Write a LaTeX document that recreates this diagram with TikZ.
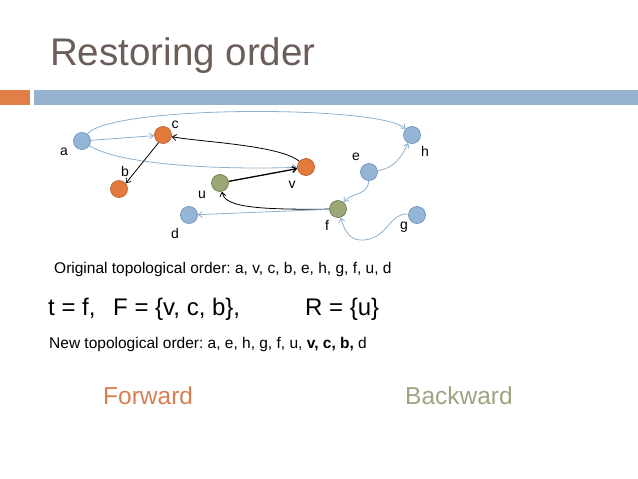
\documentclass[tikz,border=0pt]{standalone}
\usepackage{fontspec}
\setmainfont{Liberation Sans}
\frenchspacing
\usetikzlibrary{arrows.meta}
\definecolor{titlegray}{RGB}{107,93,88}
\definecolor{barorange}{RGB}{224,128,72}
\definecolor{barblue}{RGB}{149,179,208}
\definecolor{nblue}{RGB}{149,181,215}
\definecolor{nblueb}{RGB}{112,146,190}
\definecolor{norange}{RGB}{226,122,60}
\definecolor{norangeb}{RGB}{190,95,45}
\definecolor{ngreen}{RGB}{155,167,118}
\definecolor{ngreenb}{RGB}{110,125,80}
\definecolor{eblue}{RGB}{141,176,204}
\definecolor{fwd}{RGB}{214,128,82}
\definecolor{bwd}{RGB}{156,164,128}
\tikzset{
  vtx/.style={circle,minimum size=17pt,inner sep=0pt,line width=0.7pt},
  bv/.style={vtx,fill=nblue,draw=nblueb},
  ov/.style={vtx,fill=norange,draw=norangeb},
  gv/.style={vtx,fill=ngreen,draw=ngreenb},
  lbl/.style={font=\fontsize{14}{16}\selectfont,inner sep=0pt},
  bedge/.style={draw=eblue,line width=0.8pt,-{Straight Barb[length=4pt,width=6pt]}},
  kedge/.style={draw=black,line width=0.8pt,-{Straight Barb[length=4pt,width=6pt]}},
  txt/.style={anchor=base west,inner sep=0pt},
}
\begin{document}
\begin{tikzpicture}[x=1pt,y=-1pt]
\useasboundingbox (0,0) rectangle (638,479);
% title
\node[txt,text=titlegray,font=\fontsize{38.5}{42}\selectfont] (title) at (50,65) {Restoring order};
% header bar
\fill[barorange] (0,90) rectangle (30,105);
\fill[barblue] (34,90) rectangle (638,105);
% vertices
\node[bv] (a) at (82,141) {};
\node[ov] (c) at (163,135) {};
\node[ov] (b) at (119,189) {};
\node[ov] (v) at (306,167) {};
\node[gv] (u) at (220,183) {};
\node[bv] (d) at (189,215) {};
\node[gv] (f) at (338,209) {};
\node[bv] (e) at (369,172) {};
\node[bv] (h) at (412,135) {};
\node[bv] (g) at (417,215) {};
% labels
\node[lbl] (la) at (64,152) {a};
\node[lbl] (lc) at (175,125) {c};
\node[lbl] (lb) at (125,171) {b};
\node[lbl] (lv) at (292,185) {v};
\node[lbl] (lu) at (202,195) {u};
\node[lbl] (ld) at (175,233) {d};
\node[lbl] (lf) at (327,225) {f};
\node[lbl] (le) at (356,157) {e};
\node[lbl] (lh) at (425,151) {h};
\node[lbl] (lg) at (404,227) {g};
% edges
\draw[bedge] (a) .. controls (110,105) and (380,105) .. (h);
\draw[bedge] (a) -- (c);
\draw[bedge] (a) .. controls (120,165) and (220,170) .. (v);
\draw[kedge] (v) .. controls (280,145) and (200,142) .. (c);
\draw[kedge] (c.240) -- (b.40);
\draw[kedge,line width=1.3pt] (u) -- (v);
\draw[kedge] (f) .. controls (250,210) and (225,206) .. (u);
\draw[bedge] (f) -- (d);
\draw[bedge] (e) .. controls (395,168) and (402,156) .. (h);
\draw[bedge] (e) .. controls (368,196) and (352,192) .. (f);
\coordinate (gm) at (364,240);
\draw[draw=eblue,line width=0.8pt] (g) .. controls (390,212) and (388,238) .. (gm);
\draw[bedge] (gm) .. controls (350,241) and (345,232) .. (f);
% texts
\node[txt,font=\fontsize{15.5}{18}\selectfont] (orig) at (54,273) {Original topological order: a, v, c, b, e, h, g, f, u, d};
\node[txt,font=\fontsize{24}{28}\selectfont] (tf) at (48,315) {t = f,};
\node[txt,font=\fontsize{24}{28}\selectfont] (fset) at (113,315) {F = \{v, c, b\},};
\node[txt,font=\fontsize{24}{28}\selectfont] (rset) at (305,315) {R = \{u\}};
\node[txt,font=\fontsize{15.5}{18}\selectfont] (new) at (49,348) {New topological order: a, e, h, g, f, u, \textbf{v, c, b,} d};
\node[txt,text=fwd,font=\fontsize{24.5}{28}\selectfont] (fw) at (103,404) {Forward};
\node[txt,text=bwd,font=\fontsize{24.5}{28}\selectfont] (bw) at (405,404) {Backward};
\end{tikzpicture}
\end{document}
